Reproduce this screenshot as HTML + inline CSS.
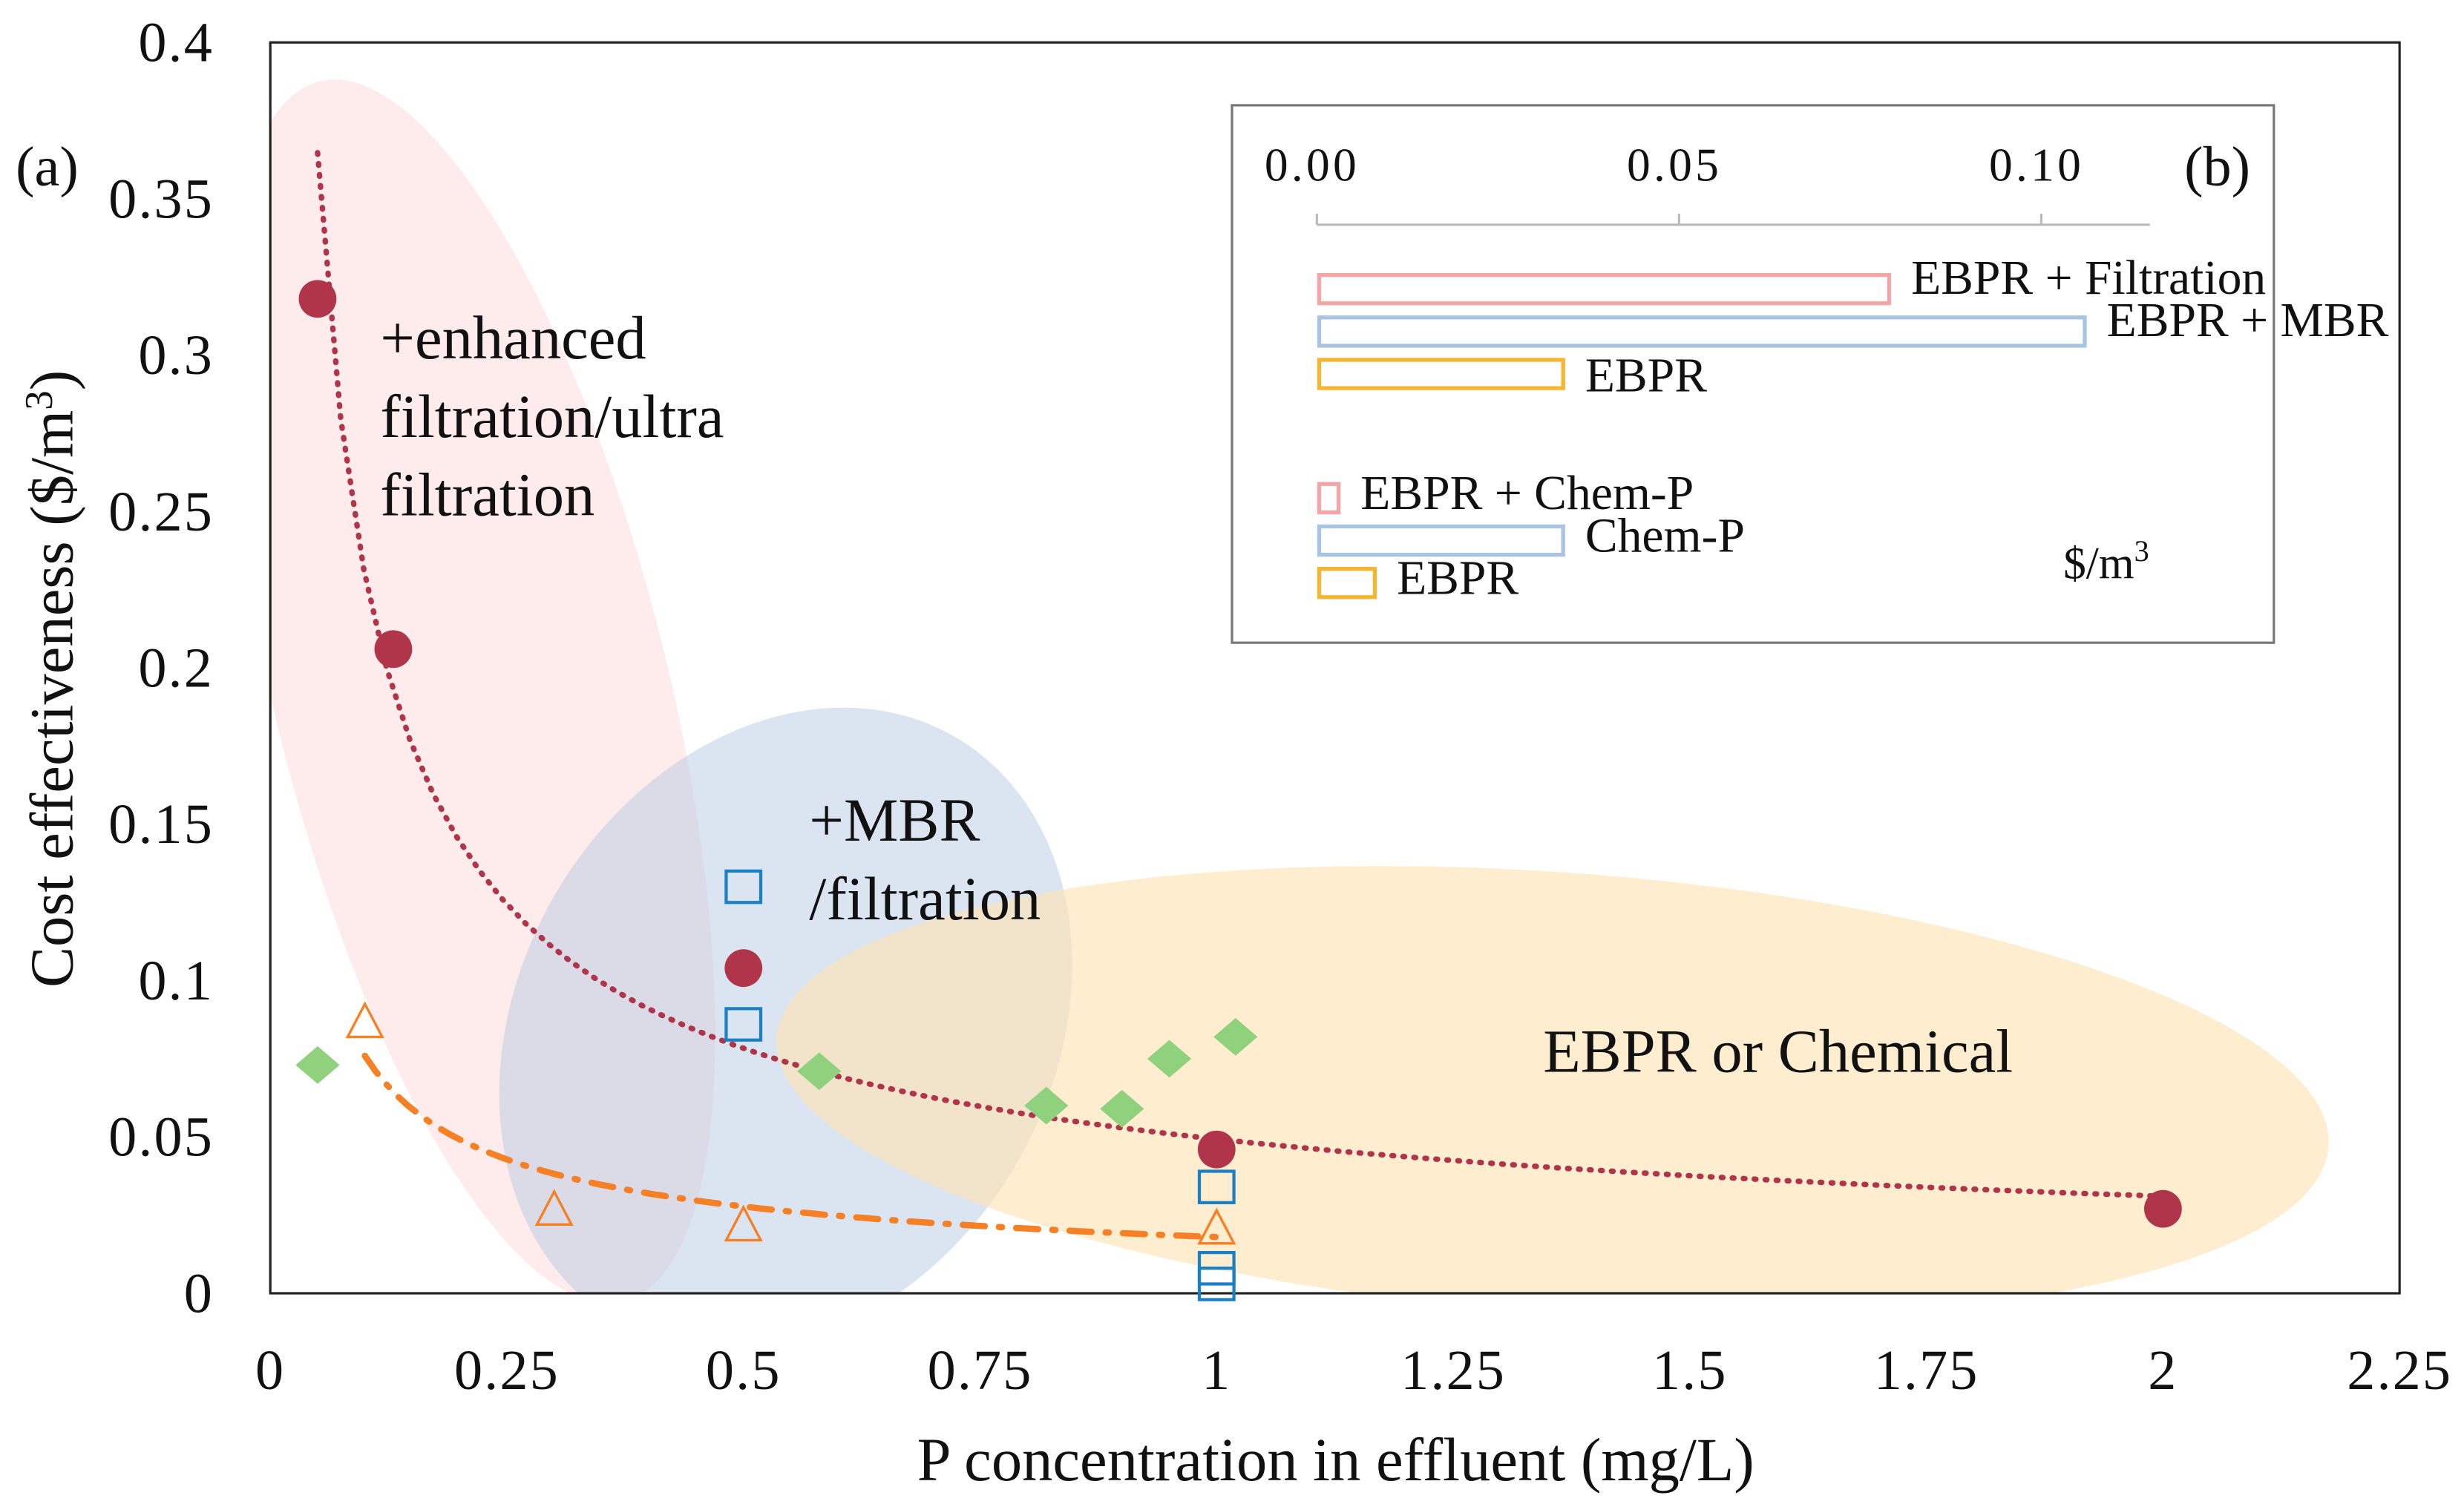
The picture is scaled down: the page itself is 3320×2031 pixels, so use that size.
<!DOCTYPE html>
<html><head><meta charset="utf-8"><style>
html,body{margin:0;padding:0;background:#fff}
svg{display:block}
text{font-family:"Liberation Serif",serif;fill:#111}
</style></head><body>
<svg width="3320" height="2031" viewBox="0 0 1568 959" preserveAspectRatio="none" xmlns="http://www.w3.org/2000/svg">
<defs><clipPath id="pc"><rect x="172" y="27" width="1355" height="796"/></clipPath></defs>
<g id="regions" clip-path="url(#pc)">
 <ellipse cx="300" cy="440" rx="125" ry="400" transform="rotate(-14 300 440)" fill="#fde0e0" opacity="0.65"/>
 <ellipse cx="500" cy="655" rx="170" ry="215" transform="rotate(30 500 655)" fill="#b8cce4" opacity="0.5"/>
 <ellipse cx="988" cy="695" rx="495" ry="140" transform="rotate(4 988 695)" fill="#fde3b5" opacity="0.65"/>
</g>
<rect x="172" y="27" width="1355" height="796" fill="none" stroke="#222" stroke-width="1.5"/>
<g id="axes"></g>
<g id="marks" clip-path="url(#pc)"></g>
<g id="unclipped"></g>
<text x="10" y="118" font-size="36">(a)</text>
<text font-size="39"><tspan x="242" y="228">+enhanced</tspan><tspan x="242" y="278">filtration/ultra</tspan><tspan x="242" y="328">filtration</tspan></text>
<text font-size="39"><tspan x="515" y="535">+MBR</tspan><tspan x="515" y="585">/filtration</tspan></text>
<text x="982" y="682" font-size="39">EBPR or Chemical</text>
<text x="850" y="942" font-size="39" text-anchor="middle">P concentration in effluent (mg/L)</text>
<text transform="translate(46 432) rotate(-90)" font-size="39" text-anchor="middle">Cost effectiveness ($/m<tspan font-size="25" dy="-13">3</tspan><tspan dy="13">)</tspan></text>
<g id="inset">
 <rect x="784" y="67" width="663" height="342" fill="#fff" stroke="#777" stroke-width="1.5"/>
 <text x="1390" y="118" font-size="36">(b)</text>
 <text x="1313" y="368" font-size="29">$/m<tspan font-size="19" dy="-11">3</tspan></text>
</g>
<script>
const xTicks=[0,0.25,0.5,0.75,1,1.25,1.5,1.75,2,2.25];
const xTickLabels=["0","0.25","0.5","0.75","1","1.25","1.5","1.75","2","2.25"];
const yTicks=[0,0.05,0.1,0.15,0.2,0.25,0.3,0.35,0.4];
const yTickLabels=["0","0.05","0.1","0.15","0.2","0.25","0.3","0.35","0.4"];
const redX=[0.05,0.13,0.5,1,2];
const redY=[0.318,0.206,0.104,0.046,0.027];
const greenX=[0.05,0.58,0.82,0.9,0.95,1.02];
const greenY=[0.073,0.071,0.060,0.059,0.075,0.082];
const orangeX=[0.1,0.3,0.5,1];
const orangeY=[0.087,0.027,0.022,0.021];
const blueX=[0.5,0.5,1,1,1];
const blueY=[0.130,0.086,0.034,0.008,0.003];
const redTrend=[0.0493,-0.668,0.05,2.0];
const orangeTrend=[0.018,-0.625,0.1,1.0];
const insetTicks=[0,0.05,0.10];
const insetTickLabels=["0.00","0.05","0.10"];
const insetBarNames=["EBPR + Filtration","EBPR + MBR","EBPR","EBPR + Chem-P","Chem-P","EBPR"];
const insetBarValues=[0.079,0.106,0.034,0.003,0.034,0.008];
const insetBarColors=["#f4a6a6","#a9c4e2","#f5b52e","#f4a6a6","#a9c4e2","#f5b52e"];

const NS="http://www.w3.org/2000/svg";
const X=v=>172+v*(1355/2.25);
const Y=v=>823-v*(796/0.4);
const IX=v=>838+v*4610;
function mk(tag,attrs,parent){const e=document.createElementNS(NS,tag);for(const k in attrs)e.setAttribute(k,attrs[k]);parent.appendChild(e);return e;}
const axes=document.getElementById('axes'),marks=document.getElementById('marks'),un=document.getElementById('unclipped'),inset=document.getElementById('inset');
xTicks.forEach((t,i)=>{const e=mk('text',{x:X(t),y:884,'font-size':36,'letter-spacing':1,'text-anchor':'middle'},axes);e.textContent=xTickLabels[i];

});
yTicks.forEach((t,i)=>{const e=mk('text',{x:136,y:Y(t)+12,'font-size':36,'letter-spacing':1,'text-anchor':'end'},axes);e.textContent=yTickLabels[i];

});
function trend(p,attrs,name){let d='';const n=80;for(let i=0;i<=n;i++){const x=p[2]+(p[3]-p[2])*i/n;d+=(i?'L':'M')+X(x).toFixed(1)+','+Y(p[0]*Math.pow(x,p[1])).toFixed(1);}
const e=mk('path',Object.assign({d:d,fill:'none'},attrs),marks);

}
trend(redTrend,{stroke:'#b0344a','stroke-width':3.5,'stroke-dasharray':'1 6','stroke-linecap':'round'},'trend-red');
trend(orangeTrend,{stroke:'#f58025','stroke-width':4,'stroke-dasharray':'14 9 2 9','stroke-linecap':'round'},'trend-orange');
greenX.forEach((x,i)=>{const cx=X(x),cy=Y(greenY[i]);const e=mk('polygon',{points:`${cx-14},${cy} ${cx},${cy-12} ${cx+14},${cy} ${cx},${cy+12}`,fill:'#8fd17c'},un);

});
orangeX.forEach((x,i)=>{const cx=X(x),cy=Y(orangeY[i]);const e=mk('polygon',{points:`${cx-11},${cy+10} ${cx},${cy-11} ${cx+11},${cy+10}`,fill:'none',stroke:'#f58025','stroke-width':1.6},un);

});
blueX.forEach((x,i)=>{const cx=X(x),cy=Y(blueY[i]);const e=mk('rect',{x:cx-11,y:cy-10,width:22,height:20,fill:'none',stroke:'#1b7fc4','stroke-width':2},un);

});
redX.forEach((x,i)=>{const e=mk('circle',{cx:X(x),cy:Y(redY[i]),r:12,fill:'#b0344a'},un);

});
// inset
const ia=mk('line',{x1:IX(0),x2:IX(0.115),y1:143,y2:143,stroke:'#bbb','stroke-width':1.5},inset);


insetTicks.forEach((t,i)=>{const l=mk('line',{x1:IX(t),x2:IX(t),y1:136,y2:143,stroke:'#bbb','stroke-width':1.5},inset);


const e=mk('text',{x:IX(t)-3,y:115,'font-size':30,'letter-spacing':2,'text-anchor':'middle'},inset);e.textContent=insetTickLabels[i];

});
const barY=[175,202,229,308,335,362];
insetBarValues.forEach((v,i)=>{const r=mk('rect',{x:IX(0)+1.5,y:barY[i],width:Math.max(IX(v)-IX(0)-1.5,2),height:18,fill:'#fff',stroke:insetBarColors[i],'stroke-width':2.5},inset);


const e=mk('text',{x:IX(v)+14,y:barY[i]+(i<3?12+(i==2?8:0):16),'font-size':31},inset);e.textContent=insetBarNames[i];

});
</script>
</svg>
</body></html>
